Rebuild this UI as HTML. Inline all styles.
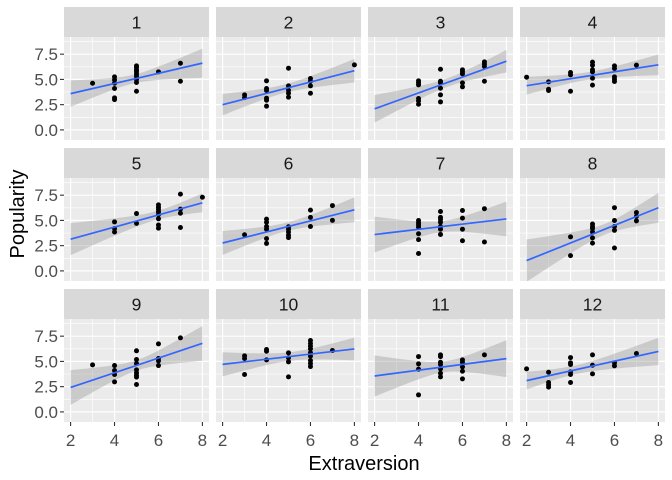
<!DOCTYPE html>
<html><head><meta charset="utf-8"><style>
body{margin:0;background:#fff}
svg{display:block;font-family:"Liberation Sans",Arial,sans-serif}
</style></head><body>
<svg id="chart" width="672" height="480" viewBox="0 0 672 480"></svg>
<script>
const panelIds = ["1","2","3","4","5","6","7","8","9","10","11","12"];
const xTicks = [2,4,6,8];
const xTickLabels = ["2","4","6","8"];
const yTicks = [0,2.5,5,7.5];
const yTickLabels = ["0.0","2.5","5.0","7.5"];
const px1=[3,4,4,4,4,4,4,5,5,5,5,5,5,5,5,5,6,7,7];
const py1=[4.62,5.25,4.95,4.62,4.1,3.17,3.0,6.34,6.18,5.95,5.75,5.52,5.29,4.99,4.69,3.83,5.75,6.6,4.82];
const px2=[3,3,4,4,4,4,4,4,5,5,5,5,5,6,6,6,6,8];
const py2=[3.47,3.2,4.86,4.1,3.9,3.14,2.94,2.35,6.11,4.36,3.93,3.63,3.24,5.09,4.82,4.36,3.63,6.44];
const px3=[4,4,4,4,4,4,5,5,5,5,5,5,6,6,6,6,6,7,7,7,7];
const py3=[4.86,4.66,4.46,3.11,2.87,2.54,6.01,4.82,4.66,4.13,3.47,2.77,5.95,5.75,5.55,4.66,4.26,6.74,6.51,6.28,4.82];
const px4=[2,3,3,3,4,4,4,5,5,5,5,5,5,6,6,6,6,6,7];
const py4=[5.22,4.76,4.03,3.9,5.68,5.45,3.83,6.71,6.41,5.95,5.75,5.12,4.43,6.34,6.08,5.25,5.02,4.79,6.41];
const px5=[4,4,4,5,5,6,6,6,6,6,6,6,6,7,7,7,7,8];
const py5=[4.85,4.2,3.85,5.68,4.71,6.54,6.3,6.09,5.85,5.57,5.16,4.54,4.23,7.6,6.12,5.71,4.3,7.29];
const px6=[3,4,4,4,4,4,4,5,5,5,5,5,6,6,6,7,7];
const py6=[3.58,5.13,4.82,4.4,4.13,3.2,2.72,4.37,4.13,3.85,3.54,3.3,6.02,5.3,4.4,6.47,5.0];
const px7=[4,4,4,4,4,4,4,5,5,5,5,5,5,5,6,6,6,6,7,7];
const py7=[4.99,4.75,4.54,4.33,3.68,3.1,1.72,5.88,5.3,5.09,4.82,4.4,4.13,3.61,5.98,5.23,4.13,2.99,6.16,2.86];
const px8=[4,4,5,5,5,5,5,5,6,6,6,6,6,7,7,7];
const py8=[3.37,1.51,4.64,4.4,4.2,3.85,3.27,2.75,6.26,4.99,4.4,4.02,2.27,5.78,5.4,4.95];
const px9=[3,4,4,4,4,5,5,5,5,5,5,5,5,6,6,6,6,7];
const py9=[4.66,4.59,4.1,3.7,2.97,6.05,5.19,4.79,4.16,3.87,3.63,3.44,2.71,6.74,5.29,5.05,4.59,7.33];
const px10=[3,3,3,4,4,4,5,5,5,5,6,6,6,6,6,6,6,6,6,7];
const py10=[5.55,5.29,3.7,6.18,6.01,5.15,5.85,5.35,4.96,3.47,7.07,6.77,6.51,6.24,5.85,5.52,5.09,4.79,4.49,6.08];
const px11=[4,4,4,4,5,5,5,5,5,5,5,6,6,6,6,6,7];
const py11=[5.48,4.76,4.23,1.68,5.65,5.48,4.92,4.69,4.26,3.83,3.47,5.15,4.92,4.46,4.03,3.27,5.65];
const px12=[2,3,3,3,3,4,4,4,4,4,4,5,5,5,6,6,7];
const py12=[4.26,3.93,2.91,2.68,2.45,5.38,4.86,4.69,3.96,3.7,2.91,5.65,4.62,3.77,4.86,4.56,5.78];
const allX=[px1,px2,px3,px4,px5,px6,px7,px8,px9,px10,px11,px12];
const allY=[py1,py2,py3,py4,py5,py6,py7,py8,py9,py10,py11,py12];

const NS="http://www.w3.org/2000/svg";
const svg=document.getElementById('chart');
function mk(tag,attrs,parent){const e=document.createElementNS(NS,tag);for(const k in attrs)e.setAttribute(k,attrs[k]);(parent||svg).appendChild(e);return e;}
const colLeft=[64,216,368,520], PW=145, rowTop=[7,148,289], SH=30, PH=103;
const xMin=1.7,xMax=8.3,yMin=-1.0,yMax=9.2;
function tq(df){return 1.96+2.4/df+3/(df*df);}

for(let p=0;p<12;p++){
  const r=Math.floor(p/4), c=p%4;
  const L=colLeft[c], S=rowTop[r], T=S+SH;
  const sx=v=>L+(v-xMin)/(xMax-xMin)*PW;
  const sy=v=>T+PH-(v-yMin)/(yMax-yMin)*PH;
  const g=mk('g',{});
  
  
  const strip=mk('rect',{x:L,y:S,width:PW,height:SH,fill:'#d9d9d9'},g);
  
  
  const st=mk('text',{x:L+PW/2,y:S+21.5,'text-anchor':'middle','font-size':'17.5',fill:'#1a1a1a'},g);
  st.textContent=panelIds[p];
  
  
  const bg=mk('rect',{x:L,y:T,width:PW,height:PH,fill:'#ebebeb'},g);
  
  
  const cid='clip'+p;
  const cp=mk('clipPath',{id:cid},g);mk('rect',{x:L,y:T,width:PW,height:PH},cp);
  [3,5,7].forEach(v=>mk('line',{x1:sx(v),x2:sx(v),y1:T,y2:T+PH,stroke:'#fff','stroke-width':0.6},g));
  [1.25,3.75,6.25,8.75].forEach(v=>mk('line',{x1:L,x2:L+PW,y1:sy(v),y2:sy(v),stroke:'#fff','stroke-width':0.6},g));
  xTicks.forEach(v=>mk('line',{x1:sx(v),x2:sx(v),y1:T,y2:T+PH,stroke:'#fff','stroke-width':1.2},g));
  yTicks.forEach(v=>mk('line',{x1:L,x2:L+PW,y1:sy(v),y2:sy(v),stroke:'#fff','stroke-width':1.2},g));
  const xs=allX[p], ys=allY[p], n=xs.length;
  const mx=xs.reduce((a,b)=>a+b,0)/n, my=ys.reduce((a,b)=>a+b,0)/n;
  let sxx=0,sxy=0;for(let i=0;i<n;i++){sxx+=(xs[i]-mx)**2;sxy+=(xs[i]-mx)*(ys[i]-my);}
  const b=sxy/sxx, a=my-b*mx;
  let sse=0;for(let i=0;i<n;i++)sse+=(ys[i]-a-b*xs[i])**2;
  const s=Math.sqrt(sse/(n-2)), t=tq(n-2);
  const lo=xTicks[0], hi=xTicks[xTicks.length-1];
  const up=[],dn=[];
  for(let k=0;k<=40;k++){const x=lo+(hi-lo)*k/40;const se=s*Math.sqrt(1/n+(x-mx)**2/sxx);const f=a+b*x;up.push(sx(x)+','+sy(f+t*se));dn.unshift(sx(x)+','+sy(f-t*se));}
  const band=mk('polygon',{points:up.concat(dn).join(' '),fill:'#999999','fill-opacity':0.4,'clip-path':'url(#'+cid+')'},g);
  
  
  for(let i=0;i<n;i++){
    const pt=mk('circle',{cx:sx(xs[i]),cy:sy(ys[i]),r:2.5,fill:'#000'},g);
    
    
  }
  const ln=mk('line',{x1:sx(lo),y1:sy(a+b*lo),x2:sx(hi),y2:sy(a+b*hi),stroke:'#3366FF','stroke-width':1.7,'clip-path':'url(#'+cid+')'},g);
  
  
  if(c===0){
    yTicks.forEach((v,i)=>{
      mk('line',{x1:L-4,x2:L,y1:sy(v),y2:sy(v),stroke:'#333','stroke-width':1.1},g);
      const tl=mk('text',{x:L-6,y:sy(v)+6,'text-anchor':'end','font-size':'17',fill:'#4d4d4d'},g);
      tl.textContent=yTickLabels[i];
      
      
    });
  }
  if(r===2){
    xTicks.forEach((v,i)=>{
      mk('line',{x1:sx(v),x2:sx(v),y1:T+PH,y2:T+PH+4,stroke:'#333','stroke-width':1.1},g);
      const tl=mk('text',{x:sx(v),y:T+PH+24,'text-anchor':'middle','font-size':'17',fill:'#4d4d4d'},g);
      tl.textContent=xTickLabels[i];
      
      
    });
  }
}
const xt=mk('text',{x:364,y:470,'text-anchor':'middle','font-size':'20',fill:'#000'});
xt.textContent='Extraversion';


const yt=mk('text',{x:0,y:0,'text-anchor':'middle','font-size':'20',fill:'#000',transform:'translate(24,214) rotate(-90)'});
yt.textContent='Popularity';


</script>
</body></html>
